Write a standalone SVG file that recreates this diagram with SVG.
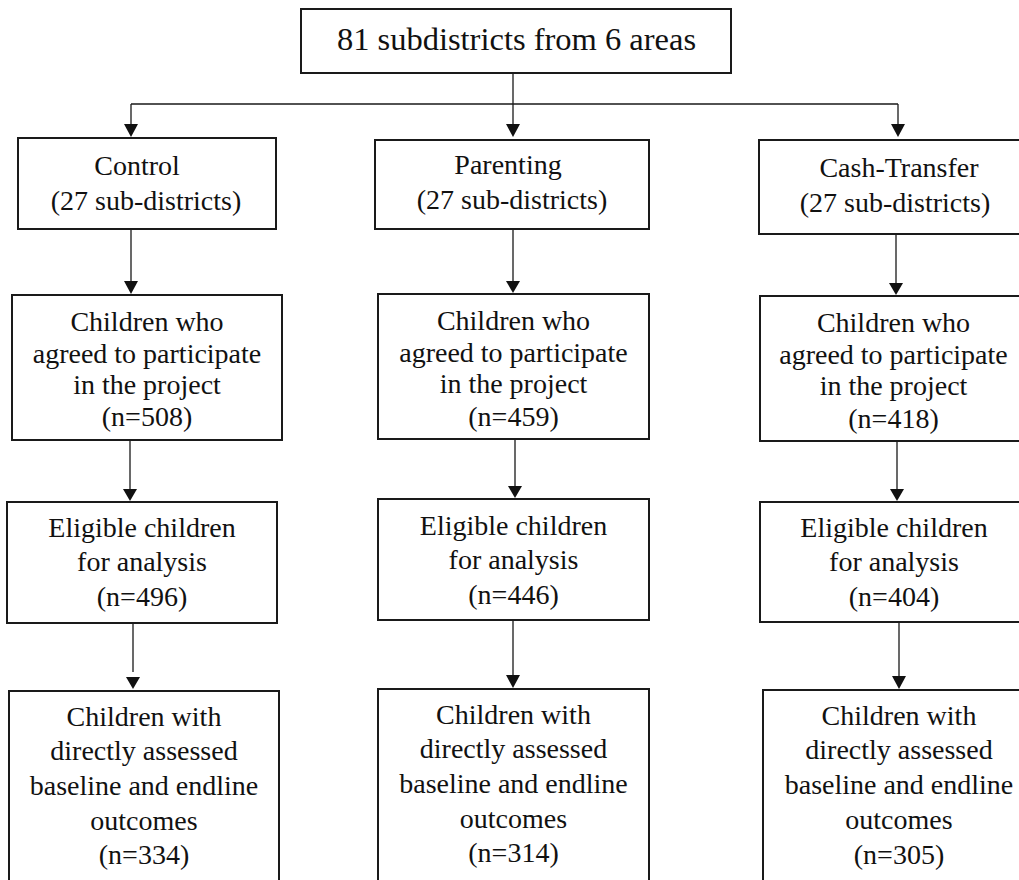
<svg xmlns="http://www.w3.org/2000/svg" width="1019" height="880" viewBox="0 0 1019 880">
<style>
.box{fill:#fff;stroke:#1a1a1a;stroke-width:2}
.ln{fill:none;stroke:#1a1a1a;stroke-width:1.3}
.ah{fill:#111;stroke:none}
text{font-family:"Liberation Serif","Times New Roman",serif;font-size:28px;fill:#111;text-anchor:middle}
.big{font-size:32.5px}
</style>
<rect width="1019" height="880" fill="#fff"/>
<g id="connectors">
<path class="ln" d="M513,73 V104 M131,104 H898 M131,104 V126 M513,104 V126 M898,104 V126"/>
<path class="ln" d="M131,229 V283 M513,229 V283 M896,234 V285"/>
<path class="ln" d="M130,440 V491 M515,439 V488 M897,441 V491"/>
<path class="ln" d="M133,623 V672 M513,620 V678 M899,622 V679"/>
<polygon class="ah" points="124,124 138,124 131,137"/>
<polygon class="ah" points="506,124 520,124 513,137"/>
<polygon class="ah" points="891,124 905,124 898,137"/>
<polygon class="ah" points="124,281 138,281 131,294"/>
<polygon class="ah" points="506,281 520,281 513,293"/>
<polygon class="ah" points="889,283 903,283 896,295"/>
<polygon class="ah" points="123,489 137,489 130,501"/>
<polygon class="ah" points="508,486 522,486 515,498"/>
<polygon class="ah" points="890,489 904,489 897,501"/>
<polygon class="ah" points="126,677 140,677 133,689"/>
<polygon class="ah" points="506,675 520,675 513,688"/>
<polygon class="ah" points="892,676 906,676 899,689"/>
</g>
<g id="top">
<rect class="box" x="301" y="9" width="430" height="64"/>
<text class="big" x="516.5" y="50">81 subdistricts from 6 areas</text>
</g>
<g id="control">
<rect class="box" x="18" y="138" width="258" height="91"/>
<text x="137" y="175">Control</text>
<text x="146" y="210">(27 sub-districts)</text>
</g>
<g id="parenting">
<rect class="box" x="375" y="140" width="274" height="89"/>
<text x="508" y="174">Parenting</text>
<text x="512" y="209">(27 sub-districts)</text>
</g>
<g id="cash">
<rect class="box" x="759" y="140" width="270" height="94"/>
<text x="899" y="177">Cash-Transfer</text>
<text x="895" y="212">(27 sub-districts)</text>
</g>
<g id="control-agreed">
<rect class="box" x="12" y="295" width="270" height="145"/>
<text x="147" y="331">Children who</text>
<text x="147" y="363">agreed to participate</text>
<text x="147" y="394">in the project</text>
<text x="147" y="426">(n=508)</text>
</g>
<g id="parenting-agreed">
<rect class="box" x="378" y="294" width="271" height="145"/>
<text x="513.5" y="330">Children who</text>
<text x="513.5" y="362">agreed to participate</text>
<text x="513.5" y="393">in the project</text>
<text x="513.5" y="426">(n=459)</text>
</g>
<g id="cash-agreed">
<rect class="box" x="760" y="296" width="270" height="145"/>
<text x="893.5" y="332">Children who</text>
<text x="893.5" y="364">agreed to participate</text>
<text x="893.5" y="395">in the project</text>
<text x="893.5" y="428">(n=418)</text>
</g>
<g id="control-eligible">
<rect class="box" x="7" y="502" width="270" height="121"/>
<text x="142" y="537">Eligible children</text>
<text x="142" y="571">for analysis</text>
<text x="142" y="606">(n=496)</text>
</g>
<g id="parenting-eligible">
<rect class="box" x="378" y="499" width="271" height="121"/>
<text x="513.5" y="535">Eligible children</text>
<text x="513.5" y="569">for analysis</text>
<text x="513.5" y="604">(n=446)</text>
</g>
<g id="cash-eligible">
<rect class="box" x="760" y="502" width="270" height="120"/>
<text x="894" y="537">Eligible children</text>
<text x="894" y="571">for analysis</text>
<text x="894" y="606">(n=404)</text>
</g>
<g id="control-outcomes">
<rect class="box" x="9" y="691" width="270" height="200"/>
<text x="144" y="726">Children with</text>
<text x="144" y="760">directly assessed</text>
<text x="144" y="795">baseline and endline</text>
<text x="144" y="830">outcomes</text>
<text x="144" y="864">(n=334)</text>
</g>
<g id="parenting-outcomes">
<rect class="box" x="378" y="689" width="271" height="200"/>
<text x="513.5" y="724">Children with</text>
<text x="513.5" y="758">directly assessed</text>
<text x="513.5" y="793">baseline and endline</text>
<text x="513.5" y="828">outcomes</text>
<text x="513.5" y="862">(n=314)</text>
</g>
<g id="cash-outcomes">
<rect class="box" x="763" y="690" width="270" height="200"/>
<text x="899" y="725">Children with</text>
<text x="899" y="759">directly assessed</text>
<text x="899" y="794">baseline and endline</text>
<text x="899" y="829">outcomes</text>
<text x="899" y="864">(n=305)</text>
</g>
</svg>
